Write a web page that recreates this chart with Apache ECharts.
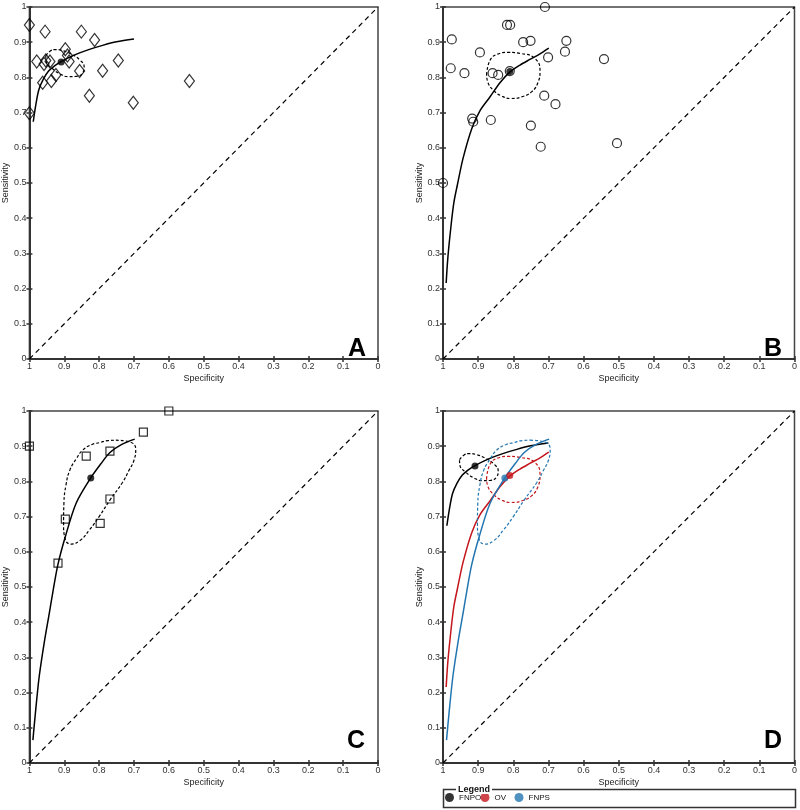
<!DOCTYPE html>
<html><head><meta charset="utf-8">
<script src="https://cdn.jsdelivr.net/npm/echarts@6/dist/echarts.min.js"></script>
<style>html,body{margin:0;padding:0;background:#fff}#c{width:800px;height:810px}</style>
</head><body><div id="c"></div>
<script>
// ---- data: [specificity, sensitivity] ----
const fnpoStudies = [[1.0,0.949],[0.955,0.930],[0.851,0.930],[0.813,0.906],[0.897,0.880],[0.979,0.845],[0.953,0.848],[0.941,0.845],[0.958,0.838],[0.886,0.845],[0.891,0.862],[0.745,0.848],[0.856,0.818],[0.790,0.819],[0.962,0.785],[0.937,0.790],[0.924,0.807],[0.828,0.748],[0.702,0.728],[0.541,0.790],[1.0,0.698]];
const ovStudies = [[0.710,1.0],[0.818,0.949],[0.809,0.949],[0.975,0.908],[0.772,0.900],[0.751,0.904],[0.649,0.904],[0.895,0.871],[0.653,0.873],[0.701,0.857],[0.978,0.826],[0.939,0.812],[0.859,0.812],[0.843,0.807],[0.810,0.818],[0.712,0.748],[0.680,0.724],[0.917,0.683],[0.914,0.674],[0.864,0.679],[0.750,0.663],[0.722,0.603],[0.542,0.852],[0.505,0.613],[1.0,0.5]];
const fnpsStudies = [[0.6,1.0],[1.0,0.9],[0.673,0.94],[0.837,0.872],[0.769,0.886],[0.769,0.750],[0.897,0.693],[0.797,0.681],[0.918,0.568]];

const fnpoSummary = [[0.909,0.844]];
const ovSummary = [[0.810,0.817]];
const fnpsSummary = [[0.824,0.810]];

const fnpoCurve = [[0.989,0.674],[0.982,0.72],[0.973,0.765],[0.96,0.795],[0.945,0.818],[0.928,0.833],[0.909,0.845],[0.87,0.864],[0.83,0.879],[0.79,0.891],[0.75,0.901],[0.70,0.909]];
const ovCurve = [[0.991,0.216],[0.986,0.29],[0.977,0.38],[0.969,0.445],[0.959,0.495],[0.943,0.57],[0.918,0.655],[0.895,0.705],[0.866,0.745],[0.838,0.785],[0.81,0.815],[0.781,0.835],[0.753,0.851],[0.724,0.867],[0.699,0.883]];
const fnpsCurve = [[0.99,0.065],[0.983,0.14],[0.972,0.245],[0.957,0.345],[0.943,0.425],[0.932,0.49],[0.918,0.565],[0.897,0.643],[0.866,0.738],[0.824,0.81],[0.795,0.85],[0.769,0.882],[0.735,0.905],[0.698,0.92]];

const fnpoRegion = [[0.953,0.862],[0.94,0.875],[0.925,0.879],[0.905,0.876],[0.88,0.866],[0.855,0.849],[0.843,0.83],[0.848,0.812],[0.865,0.803],[0.888,0.802],[0.912,0.81],[0.935,0.826],[0.952,0.846],[0.953,0.862]];
const ovRegion = [[0.876,0.807],[0.866,0.849],[0.845,0.866],[0.815,0.871],[0.78,0.868],[0.739,0.854],[0.724,0.818],[0.73,0.785],[0.748,0.759],[0.775,0.745],[0.807,0.74],[0.835,0.748],[0.857,0.764],[0.872,0.785],[0.876,0.807]];
const fnpsRegion = [[0.752,0.917],[0.715,0.913],[0.695,0.892],[0.70,0.86],[0.715,0.83],[0.733,0.797],[0.769,0.747],[0.80,0.70],[0.828,0.662],[0.855,0.632],[0.88,0.622],[0.897,0.635],[0.902,0.68],[0.901,0.738],[0.895,0.79],[0.884,0.832],[0.865,0.865],[0.847,0.889],[0.82,0.905],[0.799,0.91],[0.775,0.916],[0.752,0.917]];

const chanceLine = [[1,0],[0,1]];
const panelLetters = ['A','B','C','D'];
const legendNames = ['FNPO','OV','FNPS'];

// ---- layout / style ----
const FONT = 'Liberation Sans';
const C_BLACK = '#000000', C_RED = '#c4161c', C_BLUE = '#2375b0';
const grids = [
  {left:26, top:7, width:352, height:352},
  {left:443, top:7, width:352, height:352},
  {left:26, top:411, width:352, height:352},
  {left:443, top:411, width:352, height:352}
];
const letterPos = [[357,349],[773,349],[356,741],[773,741]];
const legendLeft = [445, 480.5, 514.5];

const xAxes = [], yAxes = [], series = [];
grids.forEach((g, i) => {
  const base = {gridIndex:i, type:'value', min:0, max:1, interval:0.1, splitLine:{show:false}};
  xAxes.push(Object.assign({}, base, {
    inverse:true, position:'bottom',
    axisLine:{show:true, onZero:false, lineStyle:{color:'#333', width:2}},
    axisTick:{show:true, length:3, lineStyle:{color:'#333', width:1.5}},
    axisLabel:{fontSize:9, color:'#333', margin:3, fontFamily:FONT},
    name:'Specificity', nameLocation:'middle', nameGap:15,
    nameTextStyle:{fontSize:9, color:'#222', fontFamily:FONT}
  }));
  xAxes.push(Object.assign({}, base, {
    inverse:true, position:'bottom',
    axisLine:{show:false, onZero:false},
    axisTick:{show:true, inside:true, length:3, lineStyle:{color:'#333', width:1.5}},
    axisLabel:{show:false}
  }));
  yAxes.push(Object.assign({}, base, {
    position:'left',
    axisLine:{show:true, onZero:false, lineStyle:{color:'#333', width:2}},
    axisTick:{show:true, length:3, lineStyle:{color:'#333', width:1.5}},
    axisLabel:{fontSize:9, color:'#333', margin:3, fontFamily:FONT},
    name:'Sensitivity', nameLocation:'middle', nameGap:18, nameRotate:90,
    nameTextStyle:{fontSize:9, color:'#222', fontFamily:FONT}
  }));
  yAxes.push(Object.assign({}, base, {
    position:'left',
    axisLine:{show:false, onZero:false},
    axisTick:{show:true, inside:true, length:3, lineStyle:{color:'#333', width:1.5}},
    axisLabel:{show:false}
  }));
  series.push({
    type:'line', xAxisIndex:2*i, yAxisIndex:2*i, data:chanceLine, showSymbol:false, silent:true,
    lineStyle:{color:'#000', width:1.2, type:[5,4]}, z:1
  });
});

function curve(gi, data, color, name) {
  return {type:'line', name:name, xAxisIndex:2*gi, yAxisIndex:2*gi, data:data, smooth:0.3,
    showSymbol:false, clip:false, lineStyle:{color:color, width:1.5}, z:3};
}
function region(gi, data, color) {
  return {type:'line', xAxisIndex:2*gi, yAxisIndex:2*gi, data:data, smooth:0.5,
    showSymbol:false, clip:false, lineStyle:{color:color, width:1.2, type:[3,2]}, z:3};
}
function studies(gi, data, symbol, size) {
  return {type:'scatter', xAxisIndex:2*gi, yAxisIndex:2*gi, data:data, symbol:symbol, symbolSize:size,
    clip:false, itemStyle:{color:'rgba(0,0,0,0)', borderColor:'#000', borderWidth:1.2}, z:4};
}
function summary(gi, data, color, name) {
  return {type:'scatter', name:name, xAxisIndex:2*gi, yAxisIndex:2*gi, data:data, symbol:'circle',
    symbolSize:7, clip:false, itemStyle:{color:color}, z:5};
}

// Panel A
series.push(curve(0, fnpoCurve, C_BLACK));
series.push(region(0, fnpoRegion, C_BLACK));
series.push(studies(0, fnpoStudies, 'diamond', [10,13]));
series.push(summary(0, fnpoSummary, C_BLACK, 'A-summary'));
// Panel B
series.push(curve(1, ovCurve, C_BLACK));
series.push(region(1, ovRegion, C_BLACK));
series.push(studies(1, ovStudies, 'circle', 9));
series.push(summary(1, ovSummary, C_BLACK, 'B-summary'));
// Panel C
series.push(curve(2, fnpsCurve, C_BLACK));
series.push(region(2, fnpsRegion, C_BLACK));
series.push(studies(2, fnpsStudies, 'rect', 8));
series.push(summary(2, fnpsSummary, C_BLACK, 'C-summary'));
// Panel D
series.push(curve(3, fnpoCurve, C_BLACK));
series.push(region(3, fnpoRegion, C_BLACK));
series.push(curve(3, ovCurve, C_RED));
series.push(region(3, ovRegion, C_RED));
series.push(curve(3, fnpsCurve, C_BLUE));
series.push(region(3, fnpsRegion, C_BLUE));
series.push(summary(3, fnpoSummary, C_BLACK, legendNames[0]));
series.push(summary(3, fnpsSummary, C_BLUE, legendNames[2]));
series.push(summary(3, ovSummary, C_RED, legendNames[1]));

const graphics = [];
panelLetters.forEach((L, i) => {
  graphics.push({type:'text', style:{text:L, x:letterPos[i][0], y:letterPos[i][1],
    textAlign:'center', verticalAlign:'middle', font:'bold 25px "Liberation Sans"', fill:'#000'}, z:10});
});
graphics.push({type:'rect', shape:{x:443.5, y:789.5, width:352, height:18},
  style:{fill:'none', stroke:'#333', lineWidth:1.5}, z:5});
graphics.push({type:'text', style:{text:'Legend', x:456, y:789.5, textAlign:'left', verticalAlign:'middle',
  font:'bold 9px "Liberation Sans"', fill:'#111', backgroundColor:'#fff', padding:[0,2]}, z:6});

const legends = legendNames.map((n, i) => ({
  data:[n], left:legendLeft[i], top:793, icon:'circle', itemWidth:9, itemHeight:9, itemGap:1,
  padding:0, selectedMode:false, textStyle:{fontSize:8, color:'#111', fontFamily:FONT}
}));

const chart = echarts.init(document.getElementById('c'), null, {renderer:'canvas'});
chart.setOption({
  animation:false,
  backgroundColor:'#fff',
  grid: grids.map(g => Object.assign({show:true, borderColor:'#444', borderWidth:1.5, backgroundColor:'transparent'}, g)),
  xAxis: xAxes,
  yAxis: yAxes,
  legend: legends,
  graphic: graphics,
  series: series
});
</script></body></html>
